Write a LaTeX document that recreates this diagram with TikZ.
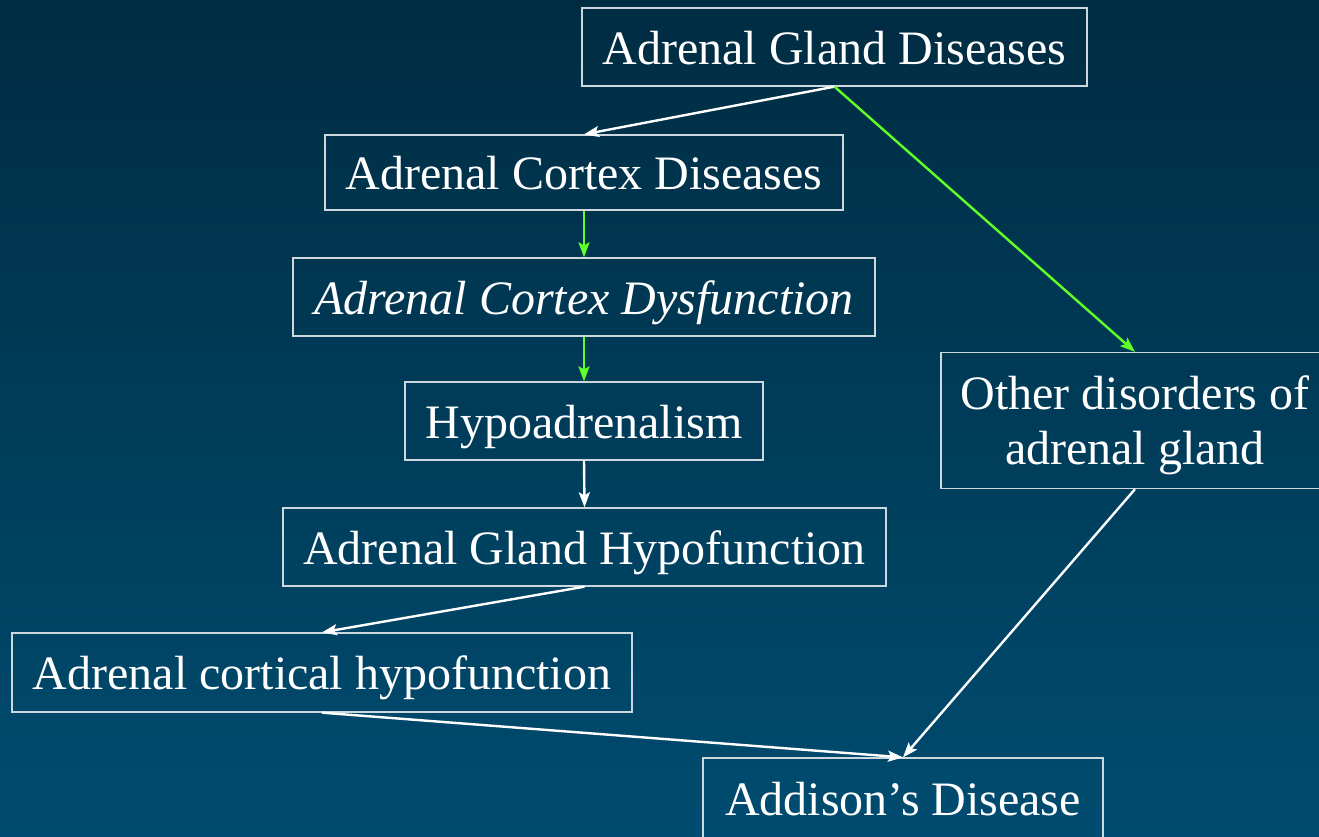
\documentclass[tikz,border=0pt]{standalone}
\usepackage{fontspec}
\setmainfont{Liberation Serif}
\usetikzlibrary{arrows.meta}
\definecolor{bgtop}{RGB}{0,44,66}
\definecolor{bgbot}{RGB}{0,76,112}
\definecolor{boxline}{RGB}{205,215,222}
\definecolor{grn}{RGB}{96,255,40}
\tikzset{
  box/.style={draw=boxline, line width=1.3pt, text=white, inner sep=0pt, align=center,
    font=\fontsize{48}{55}\selectfont},
  onebox/.style={box, text height=36pt, text depth=2pt},
  arr/.style={line width=2.4pt, -{Stealth[length=15pt,width=11pt,inset=3pt]}},
  warr/.style={arr, draw=white},
  garr/.style={arr, draw=grn},
}
\begin{document}
\begin{tikzpicture}[x=1pt,y=-1pt]
\useasboundingbox (0,0) rectangle (1319,836);
\clip (0,0) rectangle (1319,836);
\shade[top color=bgtop, bottom color=bgbot] (0,0) rectangle (1319,836);
\node[onebox, minimum width=505, minimum height=78] (agd) at (834.5,47) {Adrenal Gland Diseases};
\node[onebox, minimum width=518, minimum height=75] (acd) at (584,172.5) {Adrenal Cortex Diseases};
\node[onebox, minimum width=582, minimum height=78] (acdys) at (584,297) {\itshape Adrenal Cortex Dysfunction};
\node[onebox, minimum width=358, minimum height=78] (hypo) at (584,421) {Hypoadrenalism};
\node[onebox, minimum width=603, minimum height=78] (aghf) at (584.5,547) {Adrenal Gland Hypofunction};
\node[onebox, minimum width=620, minimum height=79] (achf) at (322,672.5) {Adrenal cortical hypofunction};
\node[box, minimum width=388, minimum height=136] (other) at (1135,420.5) {\rule{0pt}{44pt}Other disorders of\\adrenal gland};
\node[onebox, minimum width=400, minimum height=80] (add) at (903,798) {Addison’s Disease};
\draw[warr] (agd.south) -- (acd.north);
\draw[garr] (agd.south) -- (other.north);
\draw[garr] (acd.south) -- (acdys.north);
\draw[garr] (acdys.south) -- (hypo.north);
\draw[warr] (hypo.south) -- (aghf.north);
\draw[warr] (aghf.south) -- (achf.north);
\draw[warr] (achf.south) -- (add.north);
\draw[warr] (other.south) -- (add.north);
\end{tikzpicture}
\end{document}
